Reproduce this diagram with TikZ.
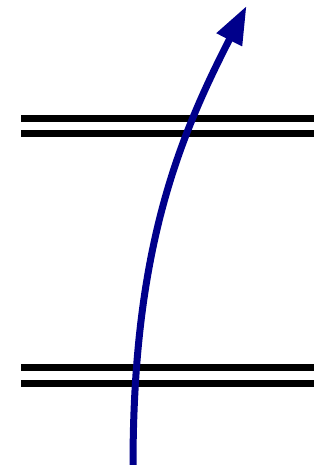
\documentclass[tikz,border=0pt]{standalone}
\usetikzlibrary{arrows.meta}
\definecolor{arrowblue}{RGB}{0,0,139}
\tikzset{
  plate/.style={line width=7pt, black},
  ray/.style={line width=7pt, arrowblue, -{Triangle[length=38pt,width=27pt]}}
}
\begin{document}
\begin{tikzpicture}[x=1pt,y=-1pt]
\useasboundingbox (0,0) rectangle (330,465);
% plates
\coordinate (a1) at (21,118.5); \coordinate (b1) at (314,118.5);
\coordinate (a2) at (21,133.5); \coordinate (b2) at (314,133.5);
\coordinate (a3) at (21,367.7); \coordinate (b3) at (314,367.7);
\coordinate (a4) at (21,383);   \coordinate (b4) at (314,383);
\draw[plate] (a1) -- (b1);
\draw[plate] (a2) -- (b2);
\draw[plate] (a3) -- (b3);
\draw[plate] (a4) -- (b4);
% ray
\coordinate (start) at (133,466);
\coordinate (tip) at (246.5,6);
\draw[ray] (start) .. controls (133,250) and (178,140) .. (tip);
\end{tikzpicture}
\end{document}
